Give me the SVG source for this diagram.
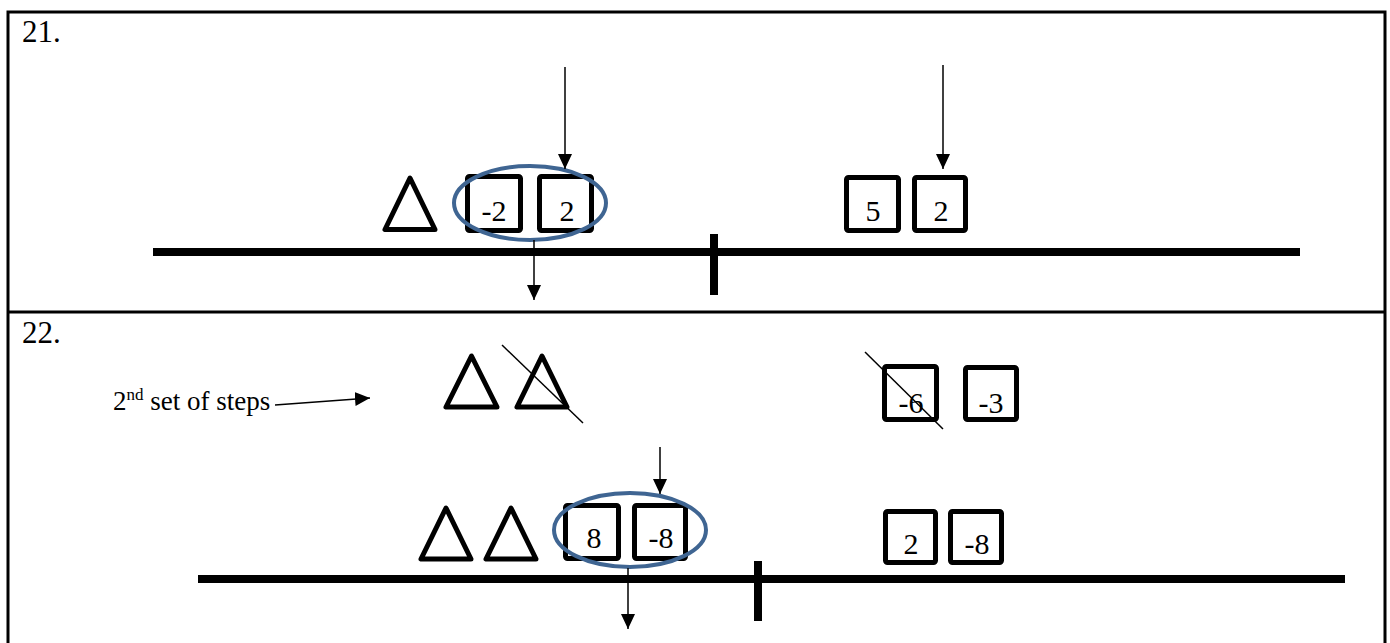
<svg xmlns="http://www.w3.org/2000/svg" width="1390" height="643" viewBox="0 0 1390 643">
<style>
.frame{fill:none;stroke:#000;stroke-width:3}
.box{fill:#fff;stroke:#000;stroke-width:5;stroke-linejoin:round}
.tri{fill:none;stroke:#000;stroke-width:5;stroke-linejoin:round}
.base{stroke:#000;stroke-width:8}
.tick{stroke:#000;stroke-width:8}
.ell{fill:none;stroke:#3F6592;stroke-width:4}
.arr{stroke:#000;stroke-width:1.5;fill:none;marker-end:url(#ah)}
.strike{stroke:#000;stroke-width:1.5}
.num{font-family:"Liberation Serif",serif;font-size:30px;text-anchor:middle;fill:#000}
.lbl{font-family:"Liberation Serif",serif;font-size:31px;fill:#000}
.note{font-family:"Liberation Serif",serif;font-size:27px;fill:#000}
</style>
<defs>
<marker id="ah" markerUnits="userSpaceOnUse" markerWidth="16" markerHeight="16" refX="15" refY="7" orient="auto" viewBox="0 0 16 14">
<path d="M0,0 L15,7 L0,14 Z" fill="#000"/>
</marker>
</defs>
<rect width="1390" height="643" fill="#fff"/>
<g id="frame">
<polyline class="frame" points="8,643 8,12 1385,12 1385,643"/>
<line class="frame" x1="8" y1="312" x2="1385" y2="312"/>
</g>
<g id="labels">
<text class="lbl" x="22" y="42">21.</text>
<text class="lbl" x="22" y="343">22.</text>
<text class="note" x="113" y="410">2<tspan font-size="17" dy="-10">nd</tspan><tspan dy="10"> set of steps</tspan></text>
</g>
<g id="balance21">
<line class="base" x1="153" y1="252" x2="1300" y2="252"/>
<line class="tick" x1="714" y1="234" x2="714" y2="295"/>
</g>
<g id="tri21"><polygon class="tri" points="385,229.5 435,229.5 410,178"/></g>
<g id="box21a"><rect class="box" x="467.5" y="176.5" width="53" height="54" rx="2"/><text class="num" x="494" y="221">-2</text></g>
<g id="box21b"><rect class="box" x="539.5" y="176.5" width="52" height="54" rx="2"/><text class="num" x="567" y="221">2</text></g>
<g id="ellipse21"><ellipse class="ell" cx="530" cy="203" rx="76" ry="37"/></g>
<g id="box21c"><rect class="box" x="846.5" y="177.5" width="52" height="53" rx="2"/><text class="num" x="873" y="221">5</text></g>
<g id="box21d"><rect class="box" x="914.5" y="177.5" width="51" height="53" rx="2"/><text class="num" x="941" y="221">2</text></g>
<g id="steps22">
<polygon class="tri" points="446,407 497,407 471.5,356"/>
<polygon class="tri" points="517,407 567,407 542,356"/>
</g>
<g id="box22a"><rect class="box" x="884.5" y="366.5" width="52" height="53" rx="2"/><text class="num" x="911" y="413">-6</text></g>
<g id="box22b"><rect class="box" x="965.5" y="367.5" width="51" height="52" rx="2"/><text class="num" x="991" y="413">-3</text></g>
<g id="balance22">
<line class="base" x1="198" y1="579" x2="1345" y2="579"/>
<line class="tick" x1="758" y1="561" x2="758" y2="621"/>
</g>
<g id="tri22a"><polygon class="tri" points="421,559 471,559 446,508"/></g>
<g id="tri22b"><polygon class="tri" points="486,559 536,559 511,508"/></g>
<g id="box22c"><rect class="box" x="565.5" y="505.5" width="53" height="53" rx="2"/><text class="num" x="594" y="548">8</text></g>
<g id="box22d"><rect class="box" x="634.5" y="505.5" width="51" height="53" rx="2"/><text class="num" x="661" y="548">-8</text></g>
<g id="ellipse22"><ellipse class="ell" cx="630" cy="530" rx="76" ry="37"/></g>
<g id="box22e"><rect class="box" x="885.5" y="511.5" width="50" height="51" rx="2"/><text class="num" x="911" y="554">2</text></g>
<g id="box22f"><rect class="box" x="950.5" y="511.5" width="51" height="51" rx="2"/><text class="num" x="977" y="554">-8</text></g>
<g id="connectors">
<line class="arr" x1="565" y1="67" x2="565" y2="169"/>
<line class="arr" x1="534" y1="240" x2="534" y2="300"/>
<line class="arr" x1="943" y1="65" x2="943" y2="169"/>
<line class="arr" x1="275" y1="405" x2="370" y2="398"/>
<line class="arr" x1="660" y1="447" x2="660" y2="494"/>
<line class="arr" x1="628" y1="568" x2="628" y2="629"/>
<line class="strike" x1="502" y1="345" x2="583" y2="423"/>
<line class="strike" x1="865" y1="352" x2="943" y2="429"/>
</g>
</svg>
